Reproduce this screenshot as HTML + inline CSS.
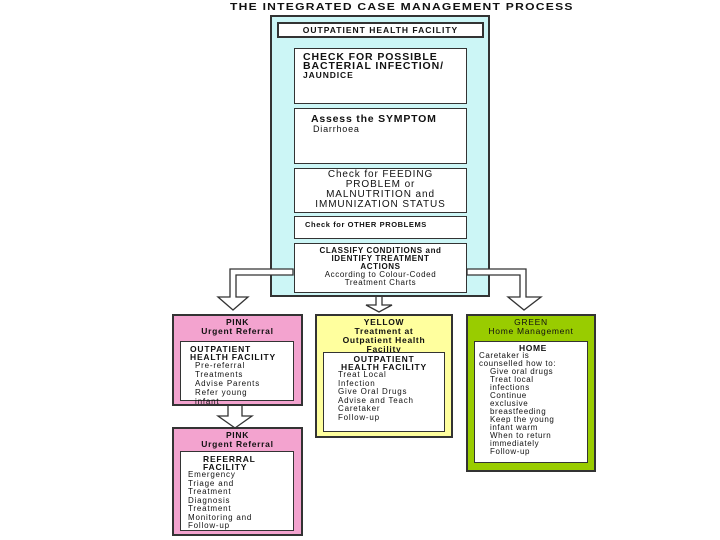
<!DOCTYPE html>
<html><head><meta charset="utf-8"><style>
body{margin:0;width:720px;height:540px;background:#fff;position:relative;overflow:hidden;font-family:"Liberation Sans",Arial,sans-serif;font-weight:bold;color:#111;letter-spacing:0.5px}
.b{position:absolute;box-sizing:border-box;border:1.5px solid #333}
.w{background:#fff}
.t{position:absolute;font-size:8px;line-height:9px}
</style></head><body>
<div class="t" style="left:230px;top:2px;font-size:10.5px;line-height:11px;white-space:nowrap;letter-spacing:1.1px;transform:scaleX(1.15);transform-origin:left">THE INTEGRATED CASE MANAGEMENT PROCESS</div>
<div class="b" style="left:270px;top:15px;width:220px;height:282px;background:#ccf6f6;border-width:2px"></div>
<div class="b w" style="left:277px;top:22px;width:207px;height:16px;border-width:2px"><div style="font-size:8.5px;text-align:center;line-height:12px;letter-spacing:1px">OUTPATIENT HEALTH FACILITY</div></div>
<div class="b w" style="left:294px;top:48px;width:173px;height:56px"><div style="font-size:10.5px;line-height:9px;padding:4px 0 0 8px;letter-spacing:0.9px;white-space:nowrap">CHECK FOR POSSIBLE<br>BACTERIAL INFECTION/<br><span style="font-size:8.5px">JAUNDICE</span></div></div>
<div class="b w" style="left:294px;top:108px;width:173px;height:56px"><div style="font-size:10.5px;line-height:10px;padding:5px 0 0 16px;letter-spacing:0.8px;white-space:nowrap">Assess the SYMPTOM<br><span style="font-weight:normal;font-size:9px;padding-left:2px">Diarrhoea</span></div></div>
<div class="b w" style="left:294px;top:168px;width:173px;height:45px"><div style="font-size:10px;line-height:10px;text-align:center;padding-top:1px;font-weight:normal;letter-spacing:0.9px;white-space:nowrap">Check for FEEDING<br>PROBLEM or<br>MALNUTRITION and<br>IMMUNIZATION STATUS</div></div>
<div class="b w" style="left:294px;top:216px;width:173px;height:23px"><div style="font-size:7.5px;padding:3px 0 0 10px;letter-spacing:0.6px;white-space:nowrap">Check for OTHER PROBLEMS</div></div>
<div class="b w" style="left:294px;top:243px;width:173px;height:50px"><div style="font-size:8px;line-height:8px;text-align:center;padding-top:3px;letter-spacing:0.6px;white-space:nowrap">CLASSIFY CONDITIONS and<br>IDENTIFY TREATMENT<br>ACTIONS<br><span style="font-weight:normal">According to Colour-Coded<br>Treatment Charts</span></div></div>
<svg width="720" height="540" style="position:absolute;left:0;top:0" fill="#fff" stroke="#333" stroke-width="1.3">
<path d="M293 269 H230 V297 H218 L233 310 L248 297 H236 V275 H293 Z"/>
<path d="M376 297 V305 H366 L379 312 L392 305 H382 V297"/>
<path d="M467 269 H526 V297 H541 L524 310 L508 297 H520 V275 H467 Z"/>
<path d="M228 405 V416 H218 L235 428 L252 416 H242 V405 Z"/>
</svg>
<div class="b" style="left:172px;top:314px;width:131px;height:92px;background:#f3a3cf;border-width:2px">
<div style="font-size:8.5px;line-height:9px;text-align:center;margin:2px 0 0 0;letter-spacing:0.7px">PINK<br>Urgent Referral</div>
<div class="b w" style="position:absolute;left:6px;top:25px;width:114px;height:60px;font-size:8.5px;line-height:8px;padding:3px 0 0 9px;letter-spacing:0.8px;white-space:nowrap">OUTPATIENT<br>HEALTH FACILITY<div style="padding-left:5px;font-weight:normal;font-size:8px;line-height:9px">Pre-referral<br>Treatments<br>Advise Parents<br>Refer young<br>infant</div></div></div>
<div class="b" style="left:172px;top:427px;width:131px;height:109px;background:#f3a3cf;border-width:2px">
<div style="font-size:8.5px;line-height:9px;text-align:center;margin:2px 0 0 0;letter-spacing:0.7px">PINK<br>Urgent Referral</div>
<div class="b w" style="position:absolute;left:6px;top:22px;width:114px;height:80px;font-size:8.5px;line-height:8px;padding:3px 0 0 22px;letter-spacing:0.8px;white-space:nowrap">REFERRAL<br>FACILITY<div style="margin-left:-15px;font-weight:normal;font-size:8px;line-height:8.5px">Emergency<br>Triage and<br>Treatment<br>Diagnosis<br>Treatment<br>Monitoring and<br>Follow-up</div></div></div>
<div class="b" style="left:315px;top:314px;width:138px;height:124px;background:#ffff9e;border-width:2px">
<div style="font-size:8.5px;line-height:9px;text-align:center;margin-top:2px;letter-spacing:0.7px;white-space:nowrap">YELLOW<br>Treatment at<br>Outpatient Health<br>Facility</div>
<div class="b w" style="position:absolute;left:6px;top:36px;width:122px;height:80px;font-size:8.5px;line-height:8px;padding:2px 0 0 0;letter-spacing:0.8px;white-space:nowrap"><div style="text-align:center">OUTPATIENT<br>HEALTH FACILITY</div><div style="padding-left:14px;font-weight:normal;font-size:8px;line-height:8.5px">Treat Local<br>Infection<br>Give Oral Drugs<br>Advise and Teach<br>Caretaker<br>Follow-up</div></div></div>
<div class="b" style="left:466px;top:314px;width:130px;height:158px;background:#99cc00;border-width:2px">
<div style="font-size:8.5px;line-height:9px;text-align:center;margin-top:2px;font-weight:normal;letter-spacing:0.7px;white-space:nowrap">GREEN<br>Home Management</div>
<div class="b w" style="position:absolute;left:6px;top:25px;width:114px;height:122px;font-size:8px;line-height:8px;padding:2px 0 0 4px;font-weight:normal;letter-spacing:0.6px;white-space:nowrap"><div style="text-align:center;font-weight:bold;font-size:8.5px">HOME</div>Caretaker is<br>counselled how to:<div style="padding-left:11px">Give oral drugs<br>Treat local<br>infections<br>Continue<br>exclusive<br>breastfeeding<br>Keep the young<br>infant warm<br>When to return<br>immediately<br>Follow-up</div></div></div>
</body></html>
